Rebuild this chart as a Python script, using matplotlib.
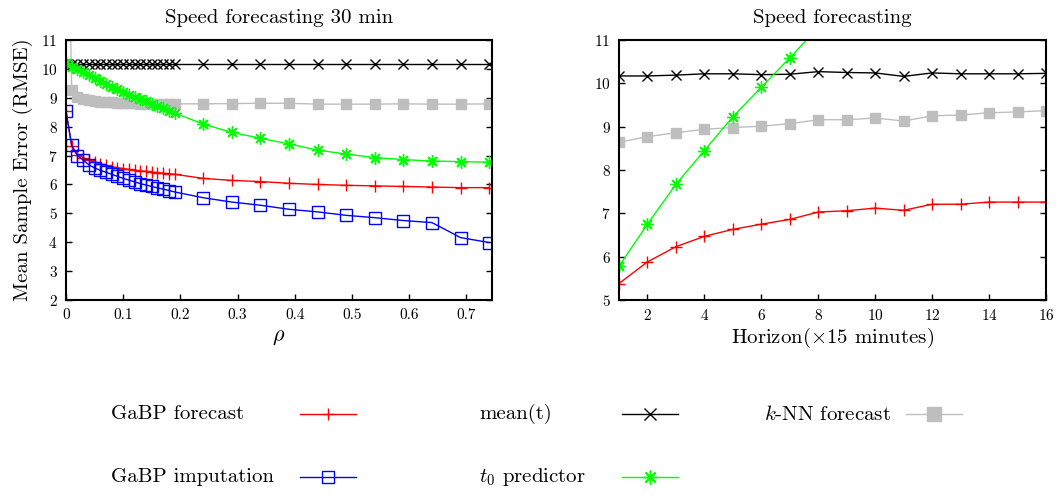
import matplotlib
matplotlib.use("Agg")
import matplotlib.pyplot as plt
from matplotlib.lines import Line2D

plt.rcParams["font.family"] = "cmr10"
plt.rcParams["mathtext.fontset"] = "cm"
plt.rcParams["axes.formatter.use_mathtext"] = True

# --- 30 min forecast vs rho ---
rho = [0.0, 0.01, 0.02, 0.03, 0.04, 0.05, 0.06, 0.07, 0.08, 0.09,
       0.10, 0.11, 0.12, 0.13, 0.14, 0.15, 0.16, 0.17, 0.18, 0.19,
       0.24, 0.29, 0.34, 0.39, 0.44, 0.49, 0.54, 0.59, 0.64, 0.69, 0.74]
gabp_fc_rho = [8.55, 7.32, 7.02, 6.93, 6.84, 6.77, 6.71, 6.66, 6.62, 6.58,
               6.55, 6.52, 6.49, 6.47, 6.45, 6.43, 6.41, 6.39, 6.37, 6.35,
               6.21, 6.14, 6.10, 6.04, 6.00, 5.97, 5.95, 5.93, 5.91, 5.89, 5.89]
gabp_imp_rho = [8.53, 7.35, 7.00, 6.84, 6.68, 6.57, 6.49, 6.42, 6.35, 6.28,
                6.21, 6.15, 6.09, 6.03, 5.98, 5.93, 5.88, 5.84, 5.79, 5.74,
                5.54, 5.39, 5.28, 5.14, 5.05, 4.93, 4.85, 4.75, 4.68, 4.16, 3.99]
mean_rho = [10.18, 10.18, 10.18, 10.18, 10.18, 10.18, 10.18, 10.18, 10.18, 10.18,
            10.18, 10.18, 10.18, 10.18, 10.18, 10.18, 10.18, 10.18, 10.18, 10.18,
            10.18, 10.18, 10.18, 10.18, 10.18, 10.18, 10.18, 10.18, 10.18, 10.18, 10.18]
t0_rho = [10.19, 10.08, 9.98, 9.88, 9.78, 9.68, 9.58, 9.49, 9.39, 9.29,
          9.19, 9.11, 9.03, 8.95, 8.88, 8.80, 8.72, 8.63, 8.55, 8.47,
          8.09, 7.80, 7.60, 7.40, 7.19, 7.05, 6.93, 6.86, 6.81, 6.79, 6.77]
knn_rho = [20.0, 9.26, 9.04, 8.96, 8.92, 8.89, 8.87, 8.85, 8.84, 8.83,
           8.82, 8.81, 8.81, 8.80, 8.80, 8.80, 8.79, 8.79, 8.79, 8.79,
           8.79, 8.80, 8.81, 8.81, 8.78, 8.78, 8.78, 8.79, 8.78, 8.78, 8.79]

# --- forecast vs horizon ---
horizon = [1, 2, 3, 4, 5, 6, 7, 8, 9, 10, 11, 12, 13, 14, 15, 16]
gabp_fc_h = [5.38, 5.88, 6.23, 6.47, 6.63, 6.75, 6.86, 7.03, 7.06, 7.12,
             7.07, 7.21, 7.21, 7.26, 7.26, 7.26]
mean_h = [10.17, 10.17, 10.19, 10.22, 10.22, 10.20, 10.21, 10.27, 10.25, 10.24,
          10.16, 10.24, 10.22, 10.22, 10.22, 10.23]
knn_h = [8.64, 8.77, 8.86, 8.94, 8.98, 9.01, 9.07, 9.16, 9.16, 9.20,
         9.13, 9.25, 9.27, 9.32, 9.34, 9.37]
t0_h_x = [1, 2, 3, 4, 5, 6, 7, 8]
t0_h = [5.78, 6.75, 7.67, 8.45, 9.23, 9.91, 10.59, 11.29]

RED = "#ff0000"
BLUE = "#0000ff"
GREEN = "#00ff00"
GRAY = "#bebebe"
ASTER = (8, 2, 0)

fig = plt.figure(figsize=(10.6, 4.96), dpi=100)
ax1 = fig.add_axes([66 / 1060, 1 - 300 / 496, 426 / 1060, 260 / 496])
ax2 = fig.add_axes([619 / 1060, 1 - 300 / 496, 427 / 1060, 260 / 496])


def style(ax):
    for s in ax.spines.values():
        s.set_linewidth(1.5)
    ax.tick_params(direction="in", length=4, width=1, right=True, top=False,
                   labelsize=11, pad=6)


# left panel
ax1.plot(rho, knn_rho, "-", color=GRAY, lw=1, marker="s", ms=7, mfc=GRAY, mec=GRAY)
ax1.plot(rho, mean_rho, "-", color="black", lw=1, marker="x", ms=7, mew=1)
ax1.plot(rho, t0_rho, "-", color=GREEN, lw=1, marker=ASTER, ms=9, mew=1)
ax1.plot(rho, gabp_fc_rho, "-", color=RED, lw=1, marker="+", ms=8, mew=1)
ax1.plot(rho, gabp_imp_rho, "-", color=BLUE, lw=1, marker="s", ms=8, mfc="none", mec=BLUE, mew=1)
ax1.set_xlim(0, 0.745)
ax1.set_ylim(2, 11)
ax1.set_xticks([0, 0.1, 0.2, 0.3, 0.4, 0.5, 0.6, 0.7])
ax1.set_xticklabels(["0", "0.1", "0.2", "0.3", "0.4", "0.5", "0.6", "0.7"])
ax1.set_yticks(range(2, 12))
ax1.set_title("Speed forecasting 30 min", fontsize=15, pad=12)
ax1.set_xlabel(r"$\rho$", fontsize=16, labelpad=4)
ax1.set_ylabel("Mean Sample Error (RMSE)", fontsize=15, labelpad=6)
style(ax1)

# right panel
ax2.plot(horizon, knn_h, "-", color=GRAY, lw=1, marker="s", ms=7, mfc=GRAY, mec=GRAY)
ax2.plot(horizon, mean_h, "-", color="black", lw=1, marker="x", ms=7, mew=1)
ax2.plot(t0_h_x, t0_h, "-", color=GREEN, lw=1, marker=ASTER, ms=9, mew=1)
ax2.plot(horizon, gabp_fc_h, "-", color=RED, lw=1, marker="+", ms=8, mew=1)
ax2.set_xlim(1, 16)
ax2.set_ylim(5, 11)
ax2.set_xticks(range(2, 17, 2))
ax2.set_yticks(range(5, 12))
ax2.set_title("Speed forecasting", fontsize=15, pad=12)
ax2.set_xlabel(r"Horizon($\times$15 minutes)", fontsize=15, labelpad=2)
style(ax2)

# key below the panels: text on the left, sample on the right
entries = [
    ("GaBP forecast", 111, 414, 300, dict(color=RED, marker="+", ms=9, mew=1)),
    ("GaBP imputation", 111, 477, 300, dict(color=BLUE, marker="s", ms=9, mfc="none", mec=BLUE, mew=1)),
    ("mean(t)", 479, 414, 622, dict(color="black", marker="x", ms=9, mew=1)),
    (r"$t_0$ predictor", 479, 477, 622, dict(color=GREEN, marker=ASTER, ms=10, mew=1)),
    (r"$k$-NN forecast", 764, 414, 906, dict(color=GRAY, marker="s", ms=10, mfc=GRAY, mec=GRAY)),
]
W, H = 1060, 496
for label, tx, ty, lx, kw in entries:
    fig.text(tx / W, 1 - ty / H, label, fontsize=15, va="center", ha="left")
    xs = [lx / W, (lx + 28) / W, (lx + 56) / W]
    ys = [1 - ty / H] * 3
    fig.add_artist(Line2D(xs, ys, lw=1, markevery=[1], transform=fig.transFigure, **kw))

fig.savefig("out.png", dpi=100)
